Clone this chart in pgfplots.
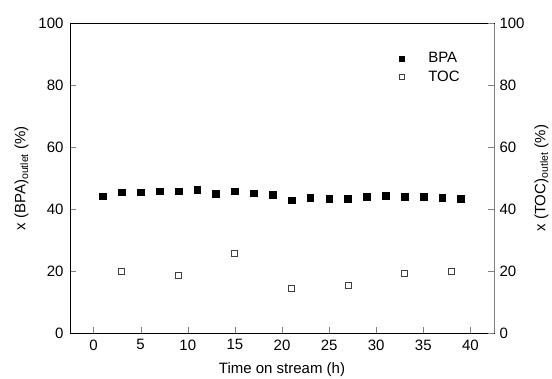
\documentclass[border=0pt]{standalone}
\usepackage{pgfplots}
\pgfplotsset{compat=1.18}
\usepackage{fontspec}
\setmainfont{Liberation Sans}
\usetikzlibrary{calc}
\begin{document}
\begin{tikzpicture}
\pgfplotsset{
  every axis/.append style={
    scale only axis, width=424pt, height=309.5pt,
    xmin=-2.5, xmax=42.5, ymin=0, ymax=100,
    tick align=inside, major tick length=6pt,
    /pgf/number format/assume math mode=true,
    tick label style={font=\fontsize{15}{18}\selectfont},
    label style={font=\fontsize{15}{18}\selectfont},
  }
}
\begin{axis}[
  xtick={0,5,...,40}, ytick={0,20,...,100},
  xtick pos=bottom, ytick pos=left,
  xticklabel style={yshift=-3pt},
  yticklabel style={xshift=-3pt},
  xlabel={Time on stream (h)},
  ylabel={x (BPA)$_{\mathrm{outlet}}$ (\%)},
  xlabel style={yshift=-6pt},
  ylabel style={yshift=3pt},
  legend style={draw=none, fill=none, at={(0.77,0.92)}, anchor=north west,
    font=\fontsize{15}{18}\selectfont, row sep=3pt},
  legend cell align=left,
  legend image code/.code={\path (0,0) (24pt,0); \draw[#1, mark size=2.4pt] plot coordinates {(0pt,0pt)};},
]
\addplot[only marks, mark=square*, mark size=3.4pt, black] coordinates {
(1,44.2) (3,45.5) (5,45.5) (7,45.8) (9,45.8) (11,46.2) (13,45.1) (15,45.8) (17,45.2) (19,44.8)
(21,42.9) (23,43.8) (25,43.3) (27,43.3) (29,44.0) (31,44.4) (33,44.1) (35,44.1) (37,43.6) (39,43.4)
};
\addlegendentry{BPA}
\addplot[only marks, mark=square, mark size=3pt, black!75, mark options={line width=0.8pt}] coordinates {
(3,19.8) (9,18.5) (15,25.7) (21,14.4) (27,15.5) (33,19.3) (38,20.0)
};
\addlegendentry{TOC}
\end{axis}
\begin{axis}[
  axis x line=none, axis y line*=right,
  y axis line style={black!50},
  ytick={0,20,...,100},
  yticklabel style={xshift=2pt},
  ylabel={x (TOC)$_{\mathrm{outlet}}$ (\%)},
  ylabel style={yshift=-3pt},
]
\end{axis}
\pgfresetboundingbox
\path[use as bounding box] ($(current axis.south west)+(-70pt,-45pt)$) rectangle ($(current axis.north east)+(58pt,23.5pt)$);
\end{tikzpicture}
\end{document}
